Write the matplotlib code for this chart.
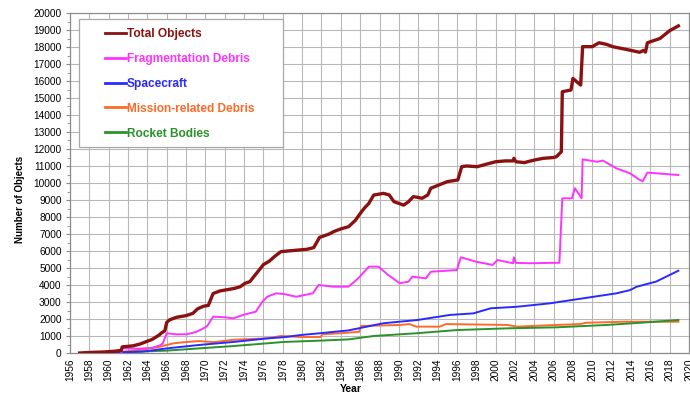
#!/usr/bin/env python3
# -*- coding: utf-8 -*-

"""
Monthly number of catalogued objects in Earth orbit by object type.
Saves the chart as out.png.
"""

import matplotlib
matplotlib.use("Agg")
import matplotlib.pyplot as plt
from matplotlib.patches import Rectangle
from matplotlib.ticker import MultipleLocator

plt.rcParams["font.family"] = ["Liberation Sans", "DejaVu Sans"]

# (year, count) pairs for each object class
total_years = [1957.0, 1958.0, 1959.5, 1960.5, 1961.3, 1961.4, 1962.5, 1963.2, 1963.8,
               1964.5, 1965.2, 1965.5, 1965.8, 1966.0, 1966.3, 1967.0, 1968.0, 1968.7,
               1969.2, 1969.8, 1970.3, 1970.8, 1971.5, 1972.0, 1973.0, 1973.6, 1974.1,
               1974.6, 1975.3, 1976.0, 1976.6, 1977.2, 1977.8, 1978.5, 1979.5, 1980.5,
               1981.2, 1981.8, 1982.8, 1983.3, 1984.0, 1984.8, 1985.5, 1986.0, 1986.4,
               1986.9, 1987.4, 1988.0, 1988.4, 1989.0, 1989.5, 1990.0, 1990.5, 1991.0,
               1991.5, 1992.0, 1992.4, 1993.0, 1993.3, 1994.0, 1995.0, 1996.1, 1996.5,
               1997.0, 1998.1, 1999.0, 2000.0, 2001.0, 2001.8, 2001.9, 2002.1, 2003.0,
               2003.3, 2004.0, 2004.9, 2006.0, 2006.3, 2006.8, 2006.9, 2007.8, 2008.0,
               2008.3, 2008.8, 2009.0, 2010.0, 2010.7, 2011.5, 2012.1, 2013.5, 2014.9,
               2015.3, 2015.5, 2015.7, 2017.0, 2018.0, 2018.9]
total_counts = [0, 30, 60, 100, 150, 360, 420, 520, 650,
                800, 1050, 1200, 1300, 1800, 1950, 2100, 2200, 2330,
                2600, 2750, 2800, 3500, 3650, 3700, 3800, 3900, 4100,
                4200, 4700, 5200, 5400, 5700, 5960, 6000, 6050, 6100,
                6200, 6800, 7000, 7150, 7300, 7430, 7800, 8200, 8500,
                8800, 9290, 9350, 9390, 9300, 8900, 8800, 8700, 8900,
                9200, 9150, 9100, 9300, 9690, 9850, 10080, 10180, 10960,
                11000, 10960, 11100, 11250, 11300, 11300, 11450, 11250, 11200,
                11250, 11350, 11450, 11500, 11550, 11840, 15370, 15470, 16150,
                16000, 15760, 18020, 18020, 18250, 18150, 18020, 17860, 17690,
                17800, 17700, 18250, 18500, 18960, 19240]

frag_years = [1961.3, 1961.4, 1963.0, 1964.5, 1965.3, 1965.6, 1966.0, 1967.0, 1968.1,
              1969.1, 1969.8, 1970.2, 1970.8, 1972.0, 1972.9, 1973.9, 1975.2, 1975.9,
              1976.4, 1977.3, 1978.1, 1979.4, 1981.1, 1981.7, 1983.2, 1984.8, 1985.8,
              1986.9, 1987.9, 1988.9, 1990.1, 1991.0, 1991.4, 1992.8, 1993.3, 1996.0,
              1996.4, 1998.0, 1999.7, 2000.2, 2001.8, 2001.9, 2002.1, 2003.5, 2006.6,
              2006.9, 2007.9, 2008.2, 2008.9, 2009.0, 2010.5, 2011.1, 2012.5, 2013.9,
              2014.8, 2015.2, 2015.7, 2018.9]
frag_counts = [0, 280, 250, 300, 450, 570, 1160, 1100, 1100,
               1250, 1450, 1600, 2140, 2100, 2040, 2240, 2430, 3020,
               3310, 3510, 3470, 3310, 3510, 4000, 3900, 3900, 4390,
               5080, 5080, 4590, 4100, 4200, 4490, 4390, 4780, 4880,
               5630, 5370, 5180, 5470, 5280, 5630, 5300, 5280, 5310,
               9100, 9100, 9690, 9100, 11390, 11250, 11320, 10860, 10570,
               10220, 10100, 10610, 10470]

sc_years = [1957.0, 1959.0, 1961.0, 1963.5, 1966.0, 1969.3, 1972.9, 1976.4, 1978.1,
            1979.9, 1981.8, 1984.8, 1988.4, 1991.9, 1995.3, 1997.7, 1999.5, 2002.2,
            2005.6, 2009.1, 2012.5, 2013.9, 2014.6, 2016.6, 2018.0, 2018.9]
sc_counts = [0, 20, 40, 80, 270, 470, 650, 860, 930,
             1060, 1160, 1330, 1750, 1940, 2240, 2330, 2630, 2720,
             2920, 3220, 3510, 3700, 3900, 4200, 4590, 4840]

mrd_years = [1957.0, 1961.0, 1963.5, 1965.3, 1966.7, 1967.9, 1969.3, 1970.9, 1972.9,
             1976.4, 1977.8, 1979.9, 1981.9, 1982.1, 1983.9, 1985.9, 1986.1, 1990.1,
             1991.1, 1991.8, 1994.2, 1994.9, 2001.2, 2002.2, 2006.3, 2008.7, 2009.4,
             2013.2, 2018.9]
mrd_counts = [0, 50, 200, 370, 570, 640, 700, 640, 780,
              860, 1000, 940, 940, 1100, 1160, 1250, 1590, 1650,
              1700, 1550, 1550, 1700, 1650, 1550, 1650, 1700, 1780,
              1840, 1840]

rb_years = [1957.0, 1961.0, 1966.0, 1969.3, 1972.9, 1976.4, 1978.1, 1981.5, 1984.8,
            1987.4, 1991.8, 1996.0, 2001.2, 2006.3, 2011.5, 2015.0, 2018.9]
rb_counts = [0, 40, 140, 270, 410, 570, 650, 720, 800,
             1000, 1160, 1350, 1450, 1510, 1650, 1780, 1940]

series = [
    ("Total Objects", total_years, total_counts, "#8b1111", 2.4, 6),
    ("Fragmentation Debris", frag_years, frag_counts, "#ff33ff", 1.4, 5),
    ("Spacecraft", sc_years, sc_counts, "#2a2aff", 1.4, 4),
    ("Mission-related Debris", mrd_years, mrd_counts, "#ff6a2a", 1.4, 3),
    ("Rocket Bodies", rb_years, rb_counts, "#2a922a", 1.4, 3.5),
]


def main():
    W, H = 690, 394
    fig = plt.figure(figsize=(W / 100, H / 100), dpi=100)
    ax = fig.add_axes([70 / W, 1 - 353 / H, (689 - 70) / W, (353 - 13) / H])

    for label, xs, ys, color, lw, z in series:
        ax.plot(xs, ys, color=color, lw=lw, label=label, zorder=z,
                solid_joinstyle="round")

    ax.set_xlim(1956, 2020)
    ax.set_ylim(0, 20000)
    ax.xaxis.set_major_locator(MultipleLocator(2))
    ax.yaxis.set_major_locator(MultipleLocator(1000))
    ax.yaxis.set_minor_locator(MultipleLocator(500))
    ax.grid(True, which="major", color="#b8b8b8", lw=0.8)
    ax.set_axisbelow(True)

    for s in ax.spines.values():
        s.set_color("#8c8c8c")
        s.set_linewidth(0.9)

    ax.tick_params(axis="x", labelsize=7.3, rotation=90, length=0, pad=4)
    ax.tick_params(axis="y", labelsize=7.3, length=3, color="#8c8c8c",
                   direction="out", pad=3)
    ax.tick_params(axis="y", which="minor", length=2, color="#8c8c8c")

    fig.text(20 / W, 1 - 199 / H, "Number of Objects", rotation=90,
             fontsize=7, fontweight="bold", ha="center", va="center")
    fig.text(351 / W, 1 - 389 / H, "Year", fontsize=7.5, fontweight="bold",
             ha="center", va="center")

    # legend box drawn separately so the padding can be uneven
    box = Rectangle((79 / W, 1 - 147 / H), 204 / W, 128 / H,
                    transform=fig.transFigure, facecolor="white",
                    edgecolor="#a8a8a8", lw=0.9, zorder=7, clip_on=False)
    ax.add_patch(box)

    leg = ax.legend(loc="upper left", bbox_to_anchor=(99 / W, 1 - 22 / H),
                    bbox_transform=fig.transFigure, frameon=False,
                    prop={"size": 8.6, "weight": "bold"}, handlelength=1.8,
                    handletextpad=0.05, labelspacing=1.08, borderpad=0)
    leg.set_zorder(8)
    for text, (_, _, _, color, _, _) in zip(leg.get_texts(), series):
        text.set_color(color)
    for line in leg.get_lines():
        line.set_linewidth(2.0)

    fig.savefig("out.png", dpi=100, facecolor="white")


if __name__ == "__main__":
    main()
